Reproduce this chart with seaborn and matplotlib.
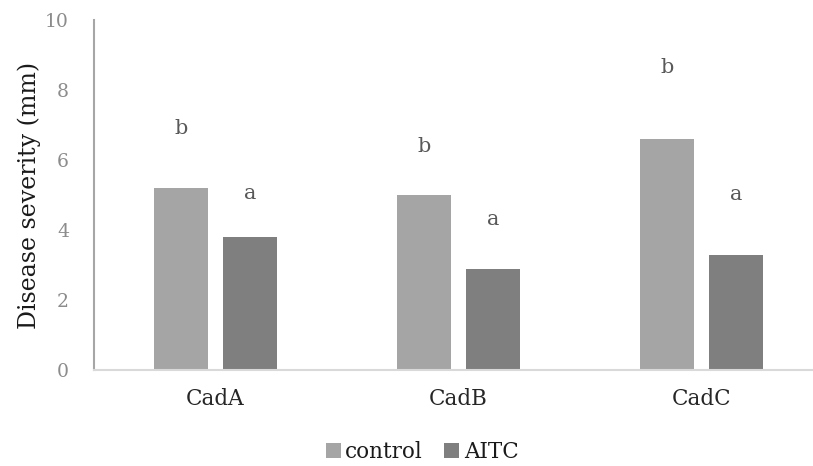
import matplotlib
matplotlib.use("Agg")
import matplotlib.pyplot as plt
import seaborn as sns
import pandas as pd
from matplotlib.patches import Patch

categories = ["CadA", "CadB", "CadC"]
control = [5.2, 5.0, 6.6]
aitc = [3.8, 2.9, 3.3]
control_letters = ["b", "b", "b"]
aitc_letters = ["a", "a", "a"]
control_letter_y = [6.9, 6.4, 8.65]
aitc_letter_y = [5.05, 4.3, 5.0]
series = ["control", "AITC"]
yticks = [0, 2, 4, 6, 8, 10]

df = pd.DataFrame({
    "cat": categories * 2,
    "series": ["control"] * 3 + ["AITC"] * 3,
    "value": control + aitc,
})

sns.set_theme(style="white")
plt.rcParams["font.family"] = ["DejaVu Serif"]

W, H = 813, 466
fig = plt.figure(figsize=(W / 100, H / 100), dpi=100)
ax = fig.add_axes([94 / W, 1 - 370 / H, (813 - 94) / W, 350 / H])

palette = {"control": "#A5A5A5", "AITC": "#7F7F7F"}
group_w = 0.568
sns.barplot(data=df, x="cat", y="value", hue="series", hue_order=series,
            palette=palette, width=group_w, gap=0.217, saturation=1,
            legend=False, ax=ax, edgecolor="none")

ax.set_ylim(0, 10)
ax.set_xlim(-0.5, 2.5 - 10 / 243)
ax.set_yticks(yticks)
ax.set_yticklabels([str(t) for t in yticks], color="#8c8c8c", fontsize=13.5)
ax.tick_params(axis="y", length=0, pad=18)
ax.tick_params(axis="x", length=0, pad=13, labelsize=15.5, labelcolor="#262626")
ax.set_xlabel("")
ax.set_ylabel("Disease severity (mm)", fontsize=17, color="#1a1a1a", labelpad=3)

for s in ["top", "right"]:
    ax.spines[s].set_visible(False)
ax.spines["left"].set_color("#a6a6a6")
ax.spines["left"].set_linewidth(1.5)
ax.spines["bottom"].set_color("#d9d9d9")
ax.spines["bottom"].set_linewidth(1.5)

off = group_w / 4
for i in range(len(categories)):
    ax.text(i - off, control_letter_y[i], control_letters[i], ha="center",
            va="center", fontsize=15, color="#595959")
    ax.text(i + off, aitc_letter_y[i], aitc_letters[i], ha="center",
            va="center", fontsize=15, color="#595959")

handles = [Patch(facecolor=palette[s], edgecolor="none") for s in series]
fig.legend(handles, series, loc="center", bbox_to_anchor=(422 / W, 1 - 452 / H),
           ncol=2, frameon=False, fontsize=15.5, handlelength=0.7, handleheight=0.7,
           handletextpad=0.2, columnspacing=1.0, labelcolor="#1a1a1a")

fig.savefig("out.png", dpi=100)
